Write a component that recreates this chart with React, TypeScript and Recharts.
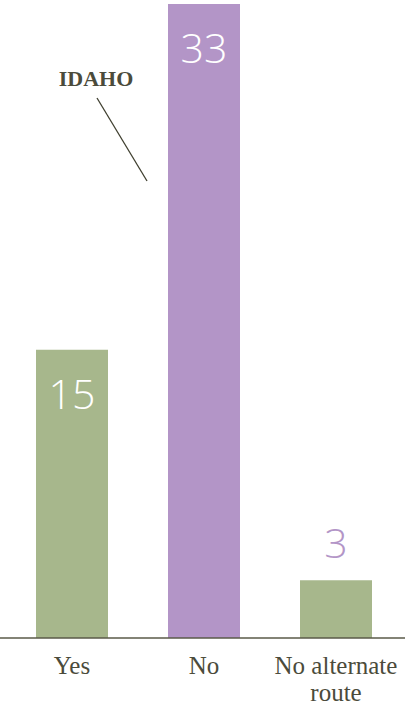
import React from "react";
import { BarChart, Bar, XAxis, YAxis, Cell, LabelList, Customized } from "recharts";

const categories = ["Yes", "No", "No alternate route"];
const values = [15, 33, 3];
const barColors = ["#a7b78c", "#b395c7", "#a7b78c"];
const annotationText = "IDAHO";

const data = categories.map((c, i) => ({ name: c, value: values[i] }));

const TEXT_COLOR = "#4b4b3b";

const Tick = (props: any) => {
  const { x, payload } = props;
  const label: string = payload.value;
  let lines = [label];
  if (label.length > 12) {
    const idx = label.lastIndexOf(" ");
    lines = [label.slice(0, idx), label.slice(idx + 1)];
  }
  const base = 638 + 36;
  return (
    <text
      x={x}
      y={base}
      textAnchor="middle"
      fill={TEXT_COLOR}
      fontFamily="'Liberation Serif', serif"
      fontSize={25}
    >
      {lines.map((l, i) => (
        <tspan key={i} x={x} y={base + i * 27}>
          {l}
        </tspan>
      ))}
    </text>
  );
};

const ValueLabel = (props: any) => {
  const { x, y, width, value } = props;
  const cx = x + width / 2;
  const inside = value >= 10;
  return (
    <text
      x={cx}
      y={inside ? y + 59 : y - 22}
      textAnchor="middle"
      fill={inside ? "#ffffff" : barColors[1]}
      fontFamily="'Open Sans', sans-serif"
      fontWeight={300}
      fontSize={41}
    >
      {value}
    </text>
  );
};

const Annotation = () => (
  <g>
    <text
      x={96}
      y={86}
      textAnchor="middle"
      fill={TEXT_COLOR}
      fontFamily="'Liberation Serif', serif"
      fontWeight={700}
      fontSize={22}
    >
      {annotationText}
    </text>
    <line x1={97} y1={98} x2={147} y2={181} stroke="#3f3f2f" strokeWidth={1.3} />
  </g>
);

export default function App() {
  return (
    <div style={{ position: "absolute", left: 0, top: 0, background: "#fff" }}>
      <BarChart
        width={405}
        height={705}
        data={data}
        margin={{ top: 4, right: 0, left: 0, bottom: 0 }}
      >
        <XAxis
          dataKey="name"
          height={67}
          padding={{ left: 6, right: 3 }}
          axisLine={{ stroke: "#5a5a48", strokeWidth: 1.5 }}
          tickLine={false}
          interval={0}
          tick={<Tick />}
        />
        <YAxis hide domain={[0, 33]} />
        <Bar dataKey="value" barSize={72} isAnimationActive={false}>
          {data.map((d, i) => (
            <Cell key={i} fill={barColors[i]} />
          ))}
          <LabelList dataKey="value" content={<ValueLabel />} />
        </Bar>
        <Customized component={Annotation} />
      </BarChart>
    </div>
  );
}
